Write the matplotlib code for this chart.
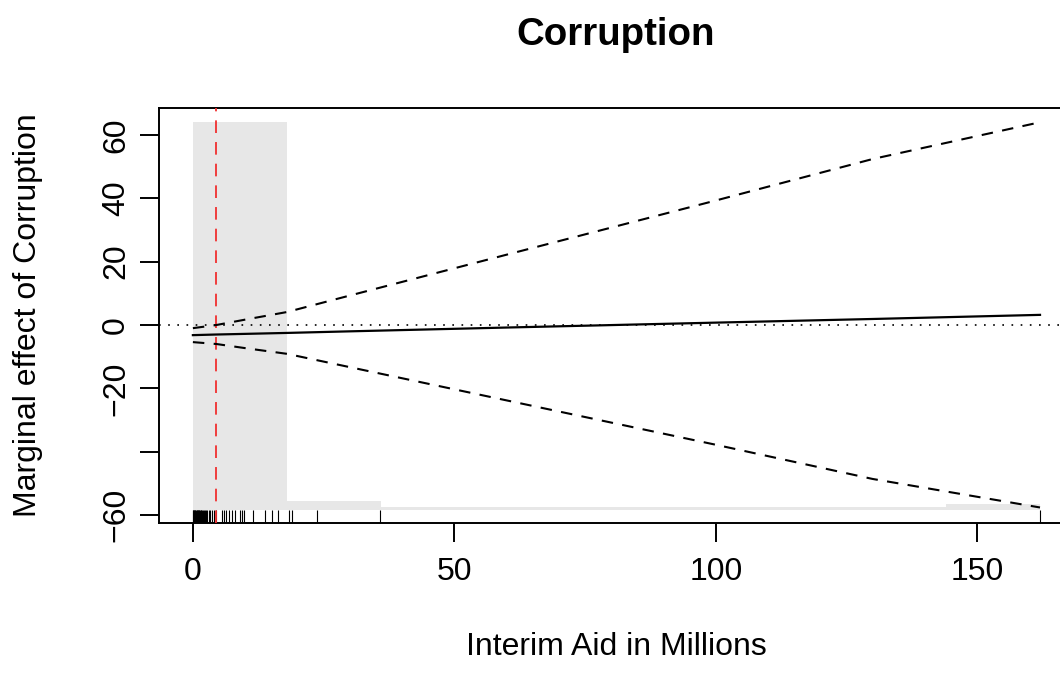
import numpy as np
import matplotlib.pyplot as plt

plt.rcParams['font.family'] = ['Liberation Sans', 'DejaVu Sans']

# marginal effect and 95% band
x_grid = [0, 4.5, 10, 18, 30, 60, 100, 130, 162]
effect = [-3.2, -3.0, -2.8, -2.5, -2.0, -0.8, 0.75, 1.9, 3.2]
upper = [-1.0, 0.0, 1.7, 4.1, 9.3, 22.2, 39.3, 52.4, 64.0]
lower = [-5.4, -6.0, -7.3, -9.1, -13.3, -23.8, -37.8, -48.6, -57.6]

# histogram of the moderator (bins of width 18)
bin_edges = [0, 18, 36, 54, 72, 90, 108, 126, 144, 162]
bin_counts = [150, 2, 0, 0, 0, 0, 0, 0, 1]

# rug of observed moderator values
rug_x = [0.0, 0.1, 0.2, 0.3, 0.4, 0.5, 0.6, 0.7, 0.8, 0.9, 1.0, 1.1, 1.2,
         1.4, 1.5, 1.6, 1.8, 2.0, 2.2, 2.4, 2.5, 2.7, 3.0, 3.2, 3.6, 4.1,
         4.5, 5.5, 6.0, 6.4, 6.9, 7.4, 8.0, 9.0, 9.3, 9.8, 11.5, 13.8,
         15.2, 16.2, 18.4, 19.0, 23.8, 35.8, 162.0]

cutoff = 4.5

yticks = [-60, -40, -20, 0, 20, 40, 60]
ytick_labels = ['\u221260', '', '\u221220', '0', '20', '40', '60']
xticks = [0, 50, 100, 150]

FS = 23
W, H = 1060, 673
L, R, B, T = 159, 1074, 523, 108   # plot box in pixels

fig = plt.figure(figsize=(W / 100, H / 100), dpi=100)
ax = fig.add_axes([L / W, 1 - B / H, (R - L) / W, (B - T) / H])
ax.set_xlim(-6.48, 168.5)
ax.set_ylim(-62.5, 68.5)

# histogram at the bottom
base = -58.3
top = 64.0
offset = 1.0
k = (top - base - offset) / max(bin_counts)
heights = [offset + c * k for c in bin_counts]
ax.bar(bin_edges[:-1], heights, width=np.diff(bin_edges), bottom=base,
       align='edge', color='#e7e7e7', edgecolor='none', zorder=1)

ax.vlines(rug_x, -62.5, base, color='black', lw=0.8, zorder=2)

ax.axhline(0, color='black', lw=1.2, linestyle=(0, (1, 4.5)), zorder=3)
ax.axvline(cutoff, color='#f03030', lw=1.3, linestyle=(0, (7, 5)), zorder=3)

ax.plot(x_grid, effect, color='black', lw=1.6, zorder=4)
ax.plot(x_grid, upper, color='black', lw=1.5, linestyle=(0, (5.5, 4.5)), zorder=4)
ax.plot(x_grid, lower, color='black', lw=1.5, linestyle=(0, (5.5, 4.5)), zorder=4)

for s in ax.spines.values():
    s.set_linewidth(1.4)

ax.set_xticks(xticks)
ax.set_xticklabels([str(v) for v in xticks])
ax.set_yticks(yticks)
ax.set_yticklabels(ytick_labels)
ax.tick_params(direction='out', length=14, width=1.4, labelsize=FS)
# baselines: x tick labels at y=580 px, y tick labels at x=124 px
ax.tick_params(axis='x', pad=(580 - B - 19.5) * 0.72)
ax.tick_params(axis='y', pad=(L - 19.5 - 124) * 0.72)
for t in ax.get_xticklabels():
    t.set_va('baseline')
for t in ax.get_yticklabels():
    t.set_rotation(90)
    t.set_rotation_mode('anchor')
    t.set_ha('center')
    t.set_va('baseline')

ax.set_xlabel('Interim Aid in Millions', fontsize=FS, va='baseline')
ax.xaxis.set_label_coords((616 - L) / (R - L), (B - 655) / (B - T))
ax.set_ylabel('Marginal effect of Corruption', fontsize=FS,
              va='baseline', ha='center', rotation_mode='anchor')
ax.yaxis.set_label_coords((36 - L) / (R - L), 0.5)

fig.text(616 / W, 1 - 45 / H, 'Corruption', fontsize=FS * 1.2,
         fontweight='bold', ha='center', va='baseline')

fig.savefig('out.png', dpi=100)
